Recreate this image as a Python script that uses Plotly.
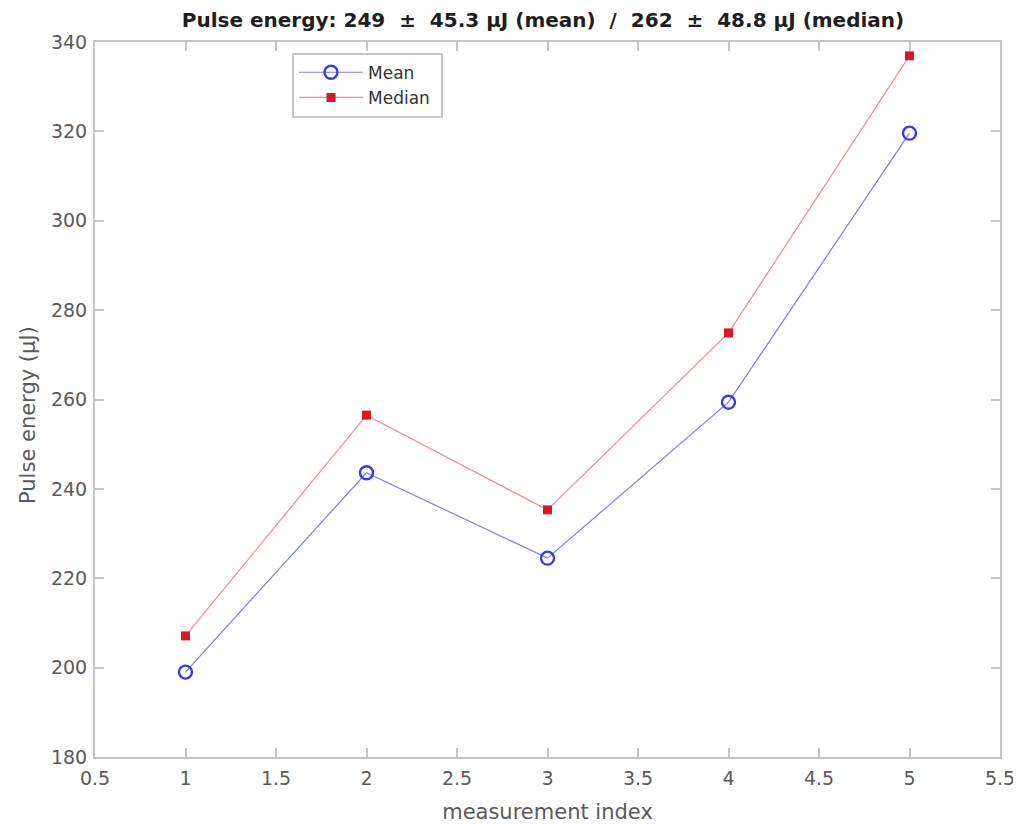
import plotly.graph_objects as go

measurement_index = [1, 2, 3, 4, 5]
mean_energy = [199.0, 243.6, 224.5, 259.4, 319.6]
median_energy = [207.1, 256.5, 235.3, 274.9, 336.9]

title_text = "<b>Pulse energy: 249  ±  45.3 μJ (mean)  /  262  ±  48.8 μJ (median)</b>"
x_title = "measurement index"
y_title = "Pulse energy (μJ)"

FONT = "DejaVu Sans, Verdana, sans-serif"
GREY = "#5a5a5a"

W, H = 1013, 816
L, R, T, B = 87, 21, 34, 67
PW, PH = W - L - R, H - T - B

fig = go.Figure()
fig.add_trace(go.Scatter(
    x=measurement_index, y=mean_energy, name="Mean\u00a0", mode="lines+markers",
    line=dict(color="rgba(70,70,230,0.7)", width=1.2),
    marker=dict(symbol="circle-open", size=13, color="rgb(60,60,220)", line=dict(width=2.4)),
))
fig.add_trace(go.Scatter(
    x=measurement_index, y=median_energy, name="Median\u00a0", mode="lines+markers",
    line=dict(color="rgba(235,90,90,0.7)", width=1.2),
    marker=dict(symbol="square", size=9, color="rgb(215,25,35)"),
))

axis_common = dict(
    showgrid=False, zeroline=False, showline=True, linecolor="#c4c4c4", linewidth=2,
    mirror="ticks", ticks="inside", ticklen=9, tickcolor="#c4c4c4", tickwidth=2,
    tickfont=dict(family=FONT, size=19, color=GREY), automargin=False,
    ticklabeloverflow="allow",
)

fig.update_layout(
    width=W, height=H, autosize=False,
    paper_bgcolor="white", plot_bgcolor="white",
    margin=dict(l=L, r=R, t=T, b=B, autoexpand=False),
    title=dict(text=title_text, x=535 / W, xanchor="center", y=1 - 12 / H, yanchor="middle",
               font=dict(family=FONT, size=20, color="#1e1e1e")),
    xaxis=dict(range=[0.5, 5.5], dtick=0.5, tick0=0.5, ticklabelstandoff=3,
               title=dict(text=x_title, standoff=21,
                          font=dict(family=FONT, size=21, color=GREY)),
               **axis_common),
    yaxis=dict(range=[180, 340], dtick=20, ticklabelstandoff=2, **axis_common),
    legend=dict(x=(292 - 95) / PW, y=0.985, xanchor="left", yanchor="top",
                bgcolor="white", bordercolor="#c4c4c4", borderwidth=2,
                font=dict(family=FONT, size=17, color="#333333"),
                tracegroupgap=0, itemwidth=64),
    showlegend=True,
)

fig.add_annotation(
    text=y_title, textangle=-90, showarrow=False,
    xref="paper", yref="paper",
    x=(20 - L) / PW, y=1 - (407 - T) / PH, xanchor="center", yanchor="middle",
    font=dict(family=FONT, size=21, color=GREY),
)

fig.write_html("out.html", config={"responsive": False})
